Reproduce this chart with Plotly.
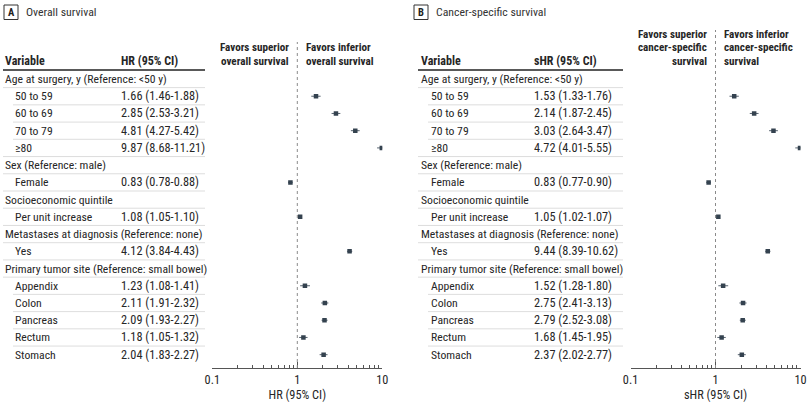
import plotly.graph_objects as go

# ---------------- data ----------------
row_labels = [
    "Age at surgery, y (Reference: <50 y)", "50 to 59", "60 to 69", "70 to 79", "≥80",
    "Sex (Reference: male)", "Female",
    "Socioeconomic quintile", "Per unit increase",
    "Metastases at diagnosis (Reference: none)", "Yes",
    "Primary tumor site (Reference: small bowel)", "Appendix", "Colon", "Pancreas", "Rectum", "Stomach",
]
row_is_sub = [False, True, True, True, True, False, True, False, True, False, True,
              False, True, True, True, True, True]

# Panel A: overall survival, HR (95% CI)
a_hr = [None, 1.66, 2.85, 4.81, 9.87, None, 0.83, None, 1.08, None, 4.12, None, 1.23, 2.11, 2.09, 1.18, 2.04]
a_lo = [None, 1.46, 2.53, 4.27, 8.68, None, 0.78, None, 1.05, None, 3.84, None, 1.08, 1.91, 1.93, 1.05, 1.83]
a_hi = [None, 1.88, 3.21, 5.42, 11.21, None, 0.88, None, 1.10, None, 4.43, None, 1.41, 2.32, 2.27, 1.32, 2.27]

# Panel B: cancer-specific survival, sHR (95% CI) -- table text
b_hr = [None, 1.53, 2.14, 3.03, 4.72, None, 0.83, None, 1.05, None, 9.44, None, 1.52, 2.75, 2.79, 1.68, 2.37]
b_lo = [None, 1.33, 1.87, 2.64, 4.01, None, 0.77, None, 1.02, None, 8.39, None, 1.28, 2.41, 2.52, 1.45, 2.02]
b_hi = [None, 1.76, 2.45, 3.47, 5.55, None, 0.90, None, 1.07, None, 10.62, None, 1.80, 3.13, 3.08, 1.95, 2.77]

# Panel B markers as drawn in the picture (they sit at the same positions as panel A)
b_plot_hr = [None, 1.66, 2.85, 4.81, 9.87, None, 0.83, None, 1.08, None, 4.12, None, 1.23, 2.11, 2.09, 1.18, 2.04]
b_plot_lo = [None, 1.46, 2.53, 4.27, 8.68, None, 0.78, None, 1.05, None, 3.84, None, 1.08, 1.91, 1.93, 1.05, 1.83]
b_plot_hi = [None, 1.88, 3.21, 5.42, 11.21, None, 0.88, None, 1.10, None, 4.43, None, 1.41, 2.32, 2.27, 1.32, 2.27]

x_tickvals = [0.1, 1, 10]
x_ticktext = ["0.1", "1", "10"]
x_minor = [0.2, 0.3, 0.4, 0.5, 0.6, 0.7, 0.8, 0.9, 2, 3, 4, 5, 6, 7, 8, 9]

# ---------------- layout constants ----------------
W, H = 810, 407
ROW0_PX, ROW_PX = 79.0, 17.23
FONT = "Roboto Condensed, Roboto, sans-serif"
FS = 11.7
FS_V = 12.3
FS_H = 12.0
FS_F = 11.1
TXT = "#262626"
MARK = "#34424f"
AXIS_Y_PX = 368


def px2row(py):
    return (py - ROW0_PX) / ROW_PX


def fx(px):
    return px / W


def fy(py):
    return 1 - py / H


def text(t, x, y, anchor, size, yref="y", color=TXT):
    return dict(text=t, xref="paper", yref=yref, x=x, y=y, xanchor=anchor, yanchor="middle",
                align=anchor if anchor in ("left", "right") else "center",
                showarrow=False, borderpad=0, font=dict(family=FONT, size=size, color=color))


fig = go.Figure()
shapes = []
ann = []

panels = [
    dict(letter="A", title="Overall survival", xa="x", col="HR (95% CI)",
         hr=a_hr, lo=a_lo, hi=a_hi, phr=a_hr, plo=a_lo, phi=a_hi,
         box=4, tx0=3, tx1=205, grp=4, sub=14, val=120, dom=(212.3, 382.3),
         left=["Favors superior", "overall survival"], right=["Favors inferior", "overall survival"],
         fav_r=290, fav_l=305, vtop=42),
    dict(letter="B", title="Cancer-specific survival", xa="x2", col="sHR (95% CI)",
         hr=b_hr, lo=b_lo, hi=b_hi, phr=b_plot_hr, plo=b_plot_lo, phi=b_plot_hi,
         box=414, tx0=418, tx1=623, grp=420, sub=430, val=533, dom=(630.5, 800.5),
         left=["Favors superior", "cancer-specific", "survival"], right=["Favors inferior", "cancer-specific", "survival"],
         fav_r=708, fav_l=723, vtop=30),
]

n = len(row_labels)
for p in panels:
    # panel tag + title
    shapes.append(dict(type="rect", xref="paper", yref="paper",
                       x0=fx(p["box"]), x1=fx(p["box"] + 14), y0=fy(19.5), y1=fy(5),
                       line=dict(color="#333", width=1), fillcolor="white"))
    ann.append(text("<b>%s</b>" % p["letter"], fx(p["box"] + 7), fy(12.3), "center", 10.5, yref="paper", color="#222"))
    ann.append(text(p["title"], fx(p["box"] + 21), fy(12.3), "left", 11.8, yref="paper", color="#333"))
    # table header
    hdr_row = px2row(61)
    ann.append(text("<b>Variable</b>", fx(p["grp"]), hdr_row, "left", FS_H))
    ann.append(text("<b>%s</b>" % p["col"], fx(p["val"]), hdr_row, "left", FS_H))
    shapes.append(dict(type="line", xref="paper", yref="y", x0=fx(p["tx0"]), x1=fx(p["tx1"]),
                       y0=px2row(70), y1=px2row(70), line=dict(color="#222", width=1.3)))
    # favours labels
    for lines, xpx, anchor in ((p["left"], p["fav_r"], "right"), (p["right"], p["fav_l"], "left")):
        k = len(lines)
        for j, t in enumerate(lines):
            ypx = 61 - (k - 1 - j) * 13.5
            ann.append(text("<b>%s</b>" % t, fx(xpx), px2row(ypx), anchor, FS_F))
    # rows
    for i in range(n):
        xpx = p["sub"] if row_is_sub[i] else p["grp"]
        ann.append(text(row_labels[i], fx(xpx), i, "left", FS))
        if p["hr"][i] is not None:
            ann.append(text("%.2f (%.2f-%.2f)" % (p["hr"][i], p["lo"][i], p["hi"][i]),
                            fx(p["val"]), i, "left", FS_V))
        if i < n - 1:
            x0 = p["tx0"] + 10 if (row_is_sub[i] and row_is_sub[i + 1]) else p["tx0"]
            shapes.append(dict(type="line", xref="paper", yref="y", x0=fx(x0), x1=fx(p["tx1"]),
                               y0=i + 0.5, y1=i + 0.5, line=dict(color="#d4d4d4", width=0.8)))
    # reference line at 1
    shapes.append(dict(type="line", xref=p["xa"], yref="paper", x0=1, x1=1,
                       y0=fy(AXIS_Y_PX), y1=fy(p["vtop"]),
                       line=dict(color="#8a8a8a", width=1, dash="dot")))
    # markers with CI
    xs, ys, ep, em = [], [], [], []
    for i in range(n):
        if p["phr"][i] is None:
            continue
        xs.append(p["phr"][i]); ys.append(i)
        ep.append(p["phi"][i] - p["phr"][i]); em.append(p["phr"][i] - p["plo"][i])
    fig.add_trace(go.Scatter(
        x=xs, y=ys, xaxis=p["xa"], yaxis="y", mode="markers",
        marker=dict(symbol="square", size=4.5, color=MARK),
        error_x=dict(type="data", symmetric=False, array=ep, arrayminus=em,
                     thickness=1, width=0, color="#56626e"),
        showlegend=False, hoverinfo="skip"))

axis_common = dict(
    type="log", range=[-1, 1], anchor="free", position=fy(AXIS_Y_PX),
    showgrid=False, zeroline=False, showline=True, linecolor="#555", linewidth=1,
    ticks="inside", ticklen=6, tickcolor="#555", tickwidth=1,
    tickvals=x_tickvals, ticktext=x_ticktext,
    tickfont=dict(family=FONT, size=FS_V, color=TXT),
    minor=dict(tickvals=x_minor, ticks="inside", ticklen=3, tickcolor="#555", tickwidth=1, showgrid=False),
    title_standoff=4, fixedrange=True, automargin=False,
)

fig.update_layout(
    width=W, height=H, autosize=False,
    margin=dict(l=0, r=0, t=0, b=0, pad=0, autoexpand=False),
    paper_bgcolor="white", plot_bgcolor="rgba(0,0,0,0)",
    xaxis=dict(domain=[fx(panels[0]["dom"][0]), fx(panels[0]["dom"][1])],
               title=dict(text="HR (95% CI)", font=dict(family=FONT, size=FS_V, color=TXT)), **axis_common),
    xaxis2=dict(domain=[fx(panels[1]["dom"][0]), fx(panels[1]["dom"][1])],
                title=dict(text="sHR (95% CI)", font=dict(family=FONT, size=FS_V, color=TXT)), **axis_common),
    yaxis=dict(domain=[0, 1], range=[px2row(H), px2row(0)], visible=False, fixedrange=True, automargin=False),
    shapes=shapes, annotations=ann, showlegend=False,
)

fig.write_html("out.html")
